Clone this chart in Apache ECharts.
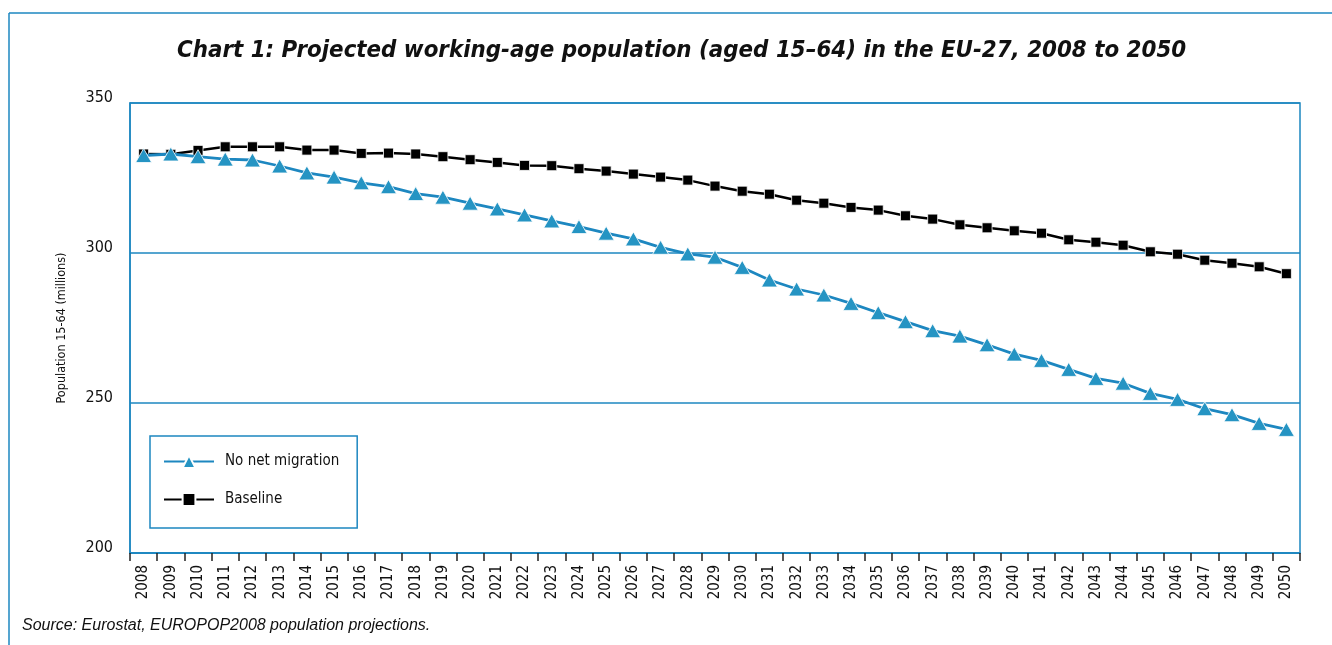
<!DOCTYPE html>
<html>
<head>
<meta charset="utf-8">
<script src="https://cdn.jsdelivr.net/npm/echarts@6/dist/echarts.min.js"></script>
<style>
html,body{margin:0;padding:0;background:#fff;}
#chart{width:1332px;height:645px;}
</style>
</head>
<body>
<div id="chart"></div>
<script>
const years = ['2008','2009','2010','2011','2012','2013','2014','2015','2016','2017','2018','2019','2020','2021','2022','2023','2024','2025','2026','2027','2028','2029','2030','2031','2032','2033','2034','2035','2036','2037','2038','2039','2040','2041','2042','2043','2044','2045','2046','2047','2048','2049','2050'];
const noNetMigration = [332.5,333.0,332.1,331.3,331.0,329.0,326.7,325.3,323.4,322.1,319.8,318.6,316.6,314.7,312.7,310.7,308.8,306.6,304.7,301.9,299.7,298.6,295.2,291.0,288.0,286.0,283.2,280.1,277.1,274.1,272.3,269.4,266.3,264.2,261.2,258.2,256.6,253.2,251.2,248.1,246.1,243.2,241.2];
const baseline = [333.0,332.9,334.2,335.4,335.4,335.4,334.3,334.3,333.2,333.3,333.0,332.1,331.1,330.2,329.2,329.1,328.1,327.3,326.3,325.3,324.3,322.3,320.6,319.6,317.6,316.6,315.2,314.3,312.4,311.3,309.4,308.4,307.4,306.6,304.4,303.6,302.6,300.4,299.6,297.6,296.6,295.4,293.1];
const yTicks = {min:200, max:350, interval:50};
const titleText = 'Chart 1: Projected working-age population (aged 15\u201364) in the EU-27, 2008 to 2050';
const yAxisName = 'Population 15-64 (millions)';
const sourceText = 'Source: Eurostat, EUROPOP2008 population projections.';

const BLUE = '#1d87c0';
const NARROW = "'Liberation Sans Narrow','DejaVu Sans Condensed',sans-serif";

const chart = echarts.init(document.getElementById('chart'));
chart.setOption({
  animation:false,
  backgroundColor:'#fff',
  title:{
    text:titleText,
    left:172,
    top:34,
    textStyle:{fontFamily:NARROW,fontStyle:'italic',fontWeight:'bold',fontSize:23.8,color:'#111'}
  },
  grid:{left:130,right:32,top:103,bottom:92,show:true,borderColor:BLUE,borderWidth:1.5,containLabel:false},
  legend:{
    orient:'vertical',
    left:150,top:436,
    padding:[18,18,21,13],
    itemGap:23,
    itemWidth:50,itemHeight:16,
    borderColor:BLUE,borderWidth:1.5,
    textStyle:{fontFamily:NARROW,fontSize:15,color:'#111',padding:[0,0,0,6]},
    data:['No net migration','Baseline']
  },
  xAxis:{
    type:'category',
    data:years,
    boundaryGap:true,
    axisLine:{lineStyle:{color:BLUE,width:1.5}},
    axisTick:{show:true,length:8,lineStyle:{color:'#222',width:1.5}},
    axisLabel:{rotate:90,fontFamily:NARROW,fontSize:15,color:'#111',margin:12,interval:0},
    splitLine:{show:false}
  },
  yAxis:{
    type:'value',
    min:yTicks.min,max:yTicks.max,interval:yTicks.interval,
    name:yAxisName,
    nameLocation:'middle',
    nameGap:62,
    nameTextStyle:{fontFamily:NARROW,fontSize:12.5,color:'#111'},
    axisLine:{show:true,lineStyle:{color:BLUE,width:1.5}},
    axisTick:{show:false},
    axisLabel:{fontFamily:NARROW,fontSize:16,color:'#111',margin:17,verticalAlign:'bottom',lineHeight:10},
    splitLine:{show:true,lineStyle:{color:BLUE,width:1.5}}
  },
  series:[
    {
      name:'Baseline',
      type:'line',
      data:baseline,
      symbol:'rect',
      symbolSize:10,
      lineStyle:{color:'#000',width:2.5},
      itemStyle:{color:'#000',borderColor:'#fff',borderWidth:0.8},
      z:2
    },
    {
      name:'No net migration',
      type:'line',
      data:noNetMigration,
      symbol:'triangle',
      symbolSize:[16,14],
      lineStyle:{color:BLUE,width:2.8},
      itemStyle:{color:'#2594c3',borderColor:'#fff',borderWidth:0.8},
      z:3
    }
  ],
  graphic:[
    {type:'line',shape:{x1:9,y1:13,x2:1332,y2:13},style:{stroke:BLUE,lineWidth:1.5}},
    {type:'line',shape:{x1:9,y1:13,x2:9,y2:645},style:{stroke:BLUE,lineWidth:1.5}},
    {type:'text',left:22,top:618,style:{text:sourceText,fontFamily:"'Liberation Sans','Open Sans',sans-serif",fontStyle:'italic',fontSize:16,fill:'#111'}}
  ]
});
</script>
</body>
</html>
